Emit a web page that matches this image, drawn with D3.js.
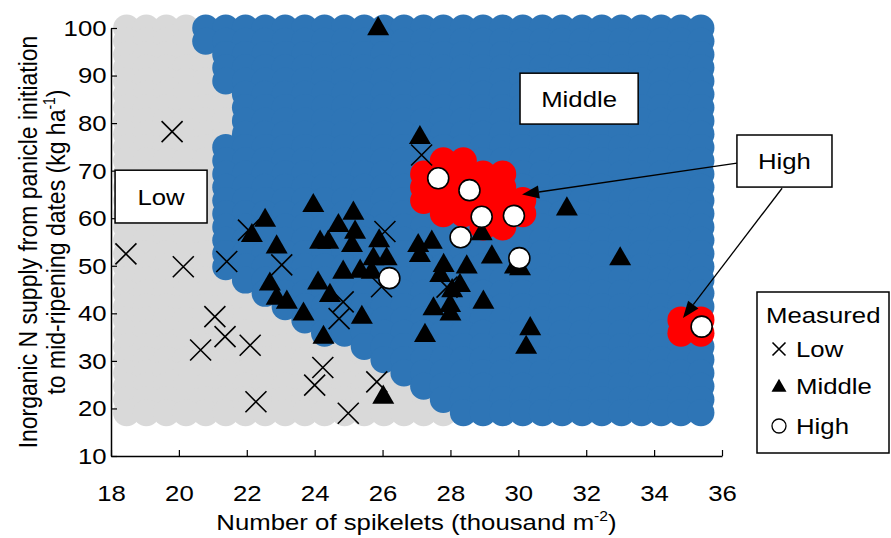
<!DOCTYPE html>
<html><head><meta charset="utf-8">
<script src="https://cdn.jsdelivr.net/npm/d3@7"></script>
<style>
body{margin:0;background:#fff}
svg{display:block}
text{font-family:"Liberation Sans",Arial,sans-serif;fill:#000}
</style>
</head><body>
<svg id="chart" width="891" height="538"></svg>
<script>
// ---------- data ----------
const xTicks = [18,20,22,24,26,28,30,32,34,36];
const yTicks = [10,20,30,40,50,60,70,80,90,100];

// simulation grid (number of spikelets, thousand m-2)
const gridX = [18.46,19.04,19.63,20.21,20.79,21.38,21.96,22.54,23.13,23.71,24.29,24.88,25.46,26.04,26.63,
               27.21,27.79,28.38,28.96,29.54,30.13,30.71,31.29,31.88,32.46,33.04,33.63,34.21,34.79,35.38];
// simulation grid (N supply, kg ha-1)
const gridY = [100,97.21,94.42,91.63,88.84,86.05,83.26,80.47,77.68,74.89,72.10,69.31,66.52,63.73,60.94,
               58.15,55.36,52.57,49.78,46.99,44.20,41.41,38.62,35.83,33.04,30.25,27.46,24.67,21.88,19.09];
// predicted class per grid row (run-length: L=Low, M=Middle, H=High)
const gridClassRuns = [
  "L4 M26","L4 M26","L5 M25","L5 M25","L5 M25","L6 M24","L6 M24","L6 M24","L6 M24","L5 M25",
  "L5 M11 H2 M12","L5 M10 H5 M10","L5 M10 H5 M10","L5 M10 H6 M9","L5 M11 H5 M9","L5 M13 H2 M10",
  "L5 M25","L5 M25","L5 M25","L6 M24","L7 M23","L8 M22","L9 M19 H2","L10 M18 H2",
  "L12 M18","L13 M17","L14 M16","L15 M15","L16 M14","L17 M13"
];

// measured points
const lowX = [18.44,19.80,20.13,21.41,22.05,23.03,21.06,21.36,20.64,22.10,22.27,24.24,24.00,24.84,24.72,25.83,24.99,26.07,25.97,27.15,27.90];
const lowY = [52.5,78.2,49.8,50.9,57.5,50.2,39.3,35.1,32.3,33.3,21.4,28.6,24.9,42.4,38.9,25.6,19.0,57.2,45.6,73.3,45.5];

const midX = [25.87,27.10,31.43,33.00,23.96,22.54,25.14,24.70,22.15,25.19,25.90,24.16,24.40,22.88,25.10,27.05,27.45,
              25.73,26.12,27.10,29.22,25.34,25.68,24.84,27.80,28.48,29.90,30.05,27.70,22.68,24.10,22.88,24.45,23.18,
              23.67,28.28,28.05,27.50,27.99,28.00,28.97,25.39,24.26,27.25,30.35,30.23,26.02,28.92];
const midY = [100.3,77.4,62.4,51.9,63.1,60.0,61.5,58.9,56.8,57.5,55.7,55.4,55.4,54.4,54.7,54.7,55.4,
              51.9,51.9,52.6,52.3,49.3,49.1,49.1,50.5,50.2,50.2,49.8,48.4,46.6,46.8,43.6,44.2,42.8,
              40.3,46.3,45.2,41.4,42.1,40.3,42.8,39.6,35.4,35.8,37.2,33.3,22.8,57.2];

const highX = [27.64,28.56,28.92,29.87,28.30,30.03,26.20,35.40];
const highY = [68.4,65.9,60.3,60.5,56.0,51.6,47.4,37.2];

const classNames = {L:"Low", M:"Middle", H:"High"};
const classColors = {L:"#d9d9d9", M:"#2e75b6", H:"#ff0000"};

// ---------- chart ----------
const svg = d3.select("#chart");
const x = d3.scaleLinear().domain([18,36]).range([111,722]);
const y = d3.scaleLinear().domain([10,100]).range([456,28]);
const fs = 23, sx = 1.12, supFs = 14;

// expand grid classes
const cells = [];
gridClassRuns.forEach((runs,ri)=>{
  let ci = 0;
  runs.split(" ").forEach(tok=>{
    const cls = tok[0], n = +tok.slice(1);
    for(let k=0;k<n;k++){ cells.push({x:gridX[ci], y:gridY[ri], cls}); ci++; }
  });
});
const order = {L:0,M:1,H:2};
cells.sort((a,b)=>order[a.cls]-order[b.cls]);

svg.append("g").selectAll("circle").data(cells).join("circle")
  .attr("cx",d=>x(d.x)).attr("cy",d=>y(d.y)).attr("r",13.5)
  .attr("fill",d=>classColors[d.cls]);

// axes
const gx = svg.append("g").attr("transform",`translate(0,${y(10)})`)
  .call(d3.axisBottom(x).tickValues(xTicks).tickSizeInner(-6).tickSizeOuter(0).tickPadding(29));
const gy = svg.append("g").attr("transform",`translate(${x(18)},0)`)
  .call(d3.axisLeft(y).tickValues(yTicks).tickSizeInner(-6).tickSizeOuter(0).tickPadding(4));
[gx,gy].forEach(g=>{
  g.select(".domain").attr("stroke","#000").attr("stroke-width",1.5);
  g.selectAll(".tick line").attr("stroke","#000").attr("stroke-width",1.2);
  g.selectAll(".tick text").attr("font-size",fs).attr("transform",`scale(${sx},1)`)
    .style("font-family",'"Liberation Sans",Arial,sans-serif').attr("fill","#000");
});

// measured points
const lowPts = lowX.map((v,i)=>({x:v,y:lowY[i]}));
const midPts = midX.map((v,i)=>({x:v,y:midY[i]}));
const highPts = highX.map((v,i)=>({x:v,y:highY[i]}));

function cross(sel, s){
  sel.append("path").attr("d",`M${-s},${-s}L${s},${s}M${-s},${s}L${s},${-s}`)
    .attr("stroke","#000").attr("stroke-width",1.6).attr("fill","none");
}
const triPath = (w)=>{ const h=w*0.87; return `M0,${-h*0.55}L${w/2},${h*0.45}L${-w/2},${h*0.45}Z`; };

svg.append("g").selectAll("g").data(lowPts).join("g")
  .attr("transform",d=>`translate(${x(d.x)},${y(d.y)})`).call(g=>cross(g,10.5));
svg.append("g").selectAll("path").data(midPts).join("path")
  .attr("transform",d=>`translate(${x(d.x)},${y(d.y)})`).attr("d",triPath(22)).attr("fill","#000");
svg.append("g").selectAll("circle").data(highPts).join("circle")
  .attr("cx",d=>x(d.x)).attr("cy",d=>y(d.y)).attr("r",10.5)
  .attr("fill","#fff").attr("stroke","#000").attr("stroke-width",1.6);

// helper: stretched text
function label(parent, px, py, anchor, str, extra){
  const g = parent.append("g").attr("transform",`translate(${px},${py}) scale(${sx},1)${extra||""}`);
  const t = g.append("text").attr("text-anchor",anchor).attr("font-size",fs);
  if(str) t.text(str);
  return t;
}

// annotations (data coordinates)
const boxes = [
  {label:"Low", x0:18.12, x1:20.83, y0:70.1, y1:59.0},
  {label:"Middle", x0:30.05, x1:33.53, y0:90.5, y1:79.8},
  {label:"High", x0:36.44, x1:39.24, y0:77.5, y1:66.55}
];
const arrows = [
  {fx:36.44, fy:71.6, tx:30.11, ty:65.0},
  {fx:37.77, fy:66.3, tx:34.85, ty:39.0}
];
const ann = svg.append("g");
arrows.forEach(a=>{
  const x1=x(a.fx), y1=y(a.fy), x2=x(a.tx), y2=y(a.ty);
  const ang=Math.atan2(y2-y1,x2-x1), L=17, W=6.5;
  const bx=x2-L*Math.cos(ang), by=y2-L*Math.sin(ang);
  ann.append("line").attr("x1",x1).attr("y1",y1).attr("x2",bx).attr("y2",by)
    .attr("stroke","#000").attr("stroke-width",1.3);
  ann.append("path").attr("d",`M${x2},${y2}L${bx+W*Math.sin(ang)},${by-W*Math.cos(ang)}L${bx-W*Math.sin(ang)},${by+W*Math.cos(ang)}Z`)
    .attr("fill","#000");
});
boxes.forEach(b=>{
  const X0=x(b.x0), X1=x(b.x1), Y0=y(b.y0), Y1=y(b.y1);
  ann.append("rect").attr("x",X0).attr("y",Y0).attr("width",X1-X0).attr("height",Y1-Y0)
    .attr("fill","#fff").attr("stroke","#000").attr("stroke-width",1.5);
  label(ann,(X0+X1)/2,(Y0+Y1)/2,"middle",b.label).attr("dy","0.36em");
});

// legend
const lg = svg.append("g");
lg.append("rect").attr("x",757).attr("y",292).attr("width",132).attr("height",161)
  .attr("fill","#fff").attr("stroke","#000").attr("stroke-width",1.5);
label(lg,766,323,"start","Measured");
const legRows = [{cls:"L",yy:349},{cls:"M",yy:386},{cls:"H",yy:426}];
legRows.forEach(r=>{
  const g = lg.append("g").attr("transform",`translate(779,${r.yy})`);
  if(r.cls==="L") cross(g,6.5);
  else if(r.cls==="M") g.append("path").attr("d",triPath(15)).attr("fill","#000");
  else g.append("circle").attr("r",7).attr("fill","#fff").attr("stroke","#000").attr("stroke-width",1.3);
  label(lg,796,r.yy,"start",classNames[r.cls]).attr("dy","0.36em");
});

// axis titles
const xt = label(svg,(x(18)+x(36))/2,530,"middle",null);
xt.append("tspan").text("Number of spikelets (thousand m");
xt.append("tspan").attr("dy",-9).attr("font-size",supFs).text("-2");
xt.append("tspan").attr("dy",9).text(")");

const cy = (y(10)+y(100))/2;
const yt1 = label(svg,37,cy,"middle","Inorganic N supply from panicle initiation"," rotate(-90)");
const yt2 = label(svg,65,cy,"middle",null," rotate(-90)");
yt2.append("tspan").text("to mid-ripening dates (kg ha");
yt2.append("tspan").attr("dy",-9).attr("font-size",supFs).text("-1");
yt2.append("tspan").attr("dy",9).text(")");
</script>
</body></html>
